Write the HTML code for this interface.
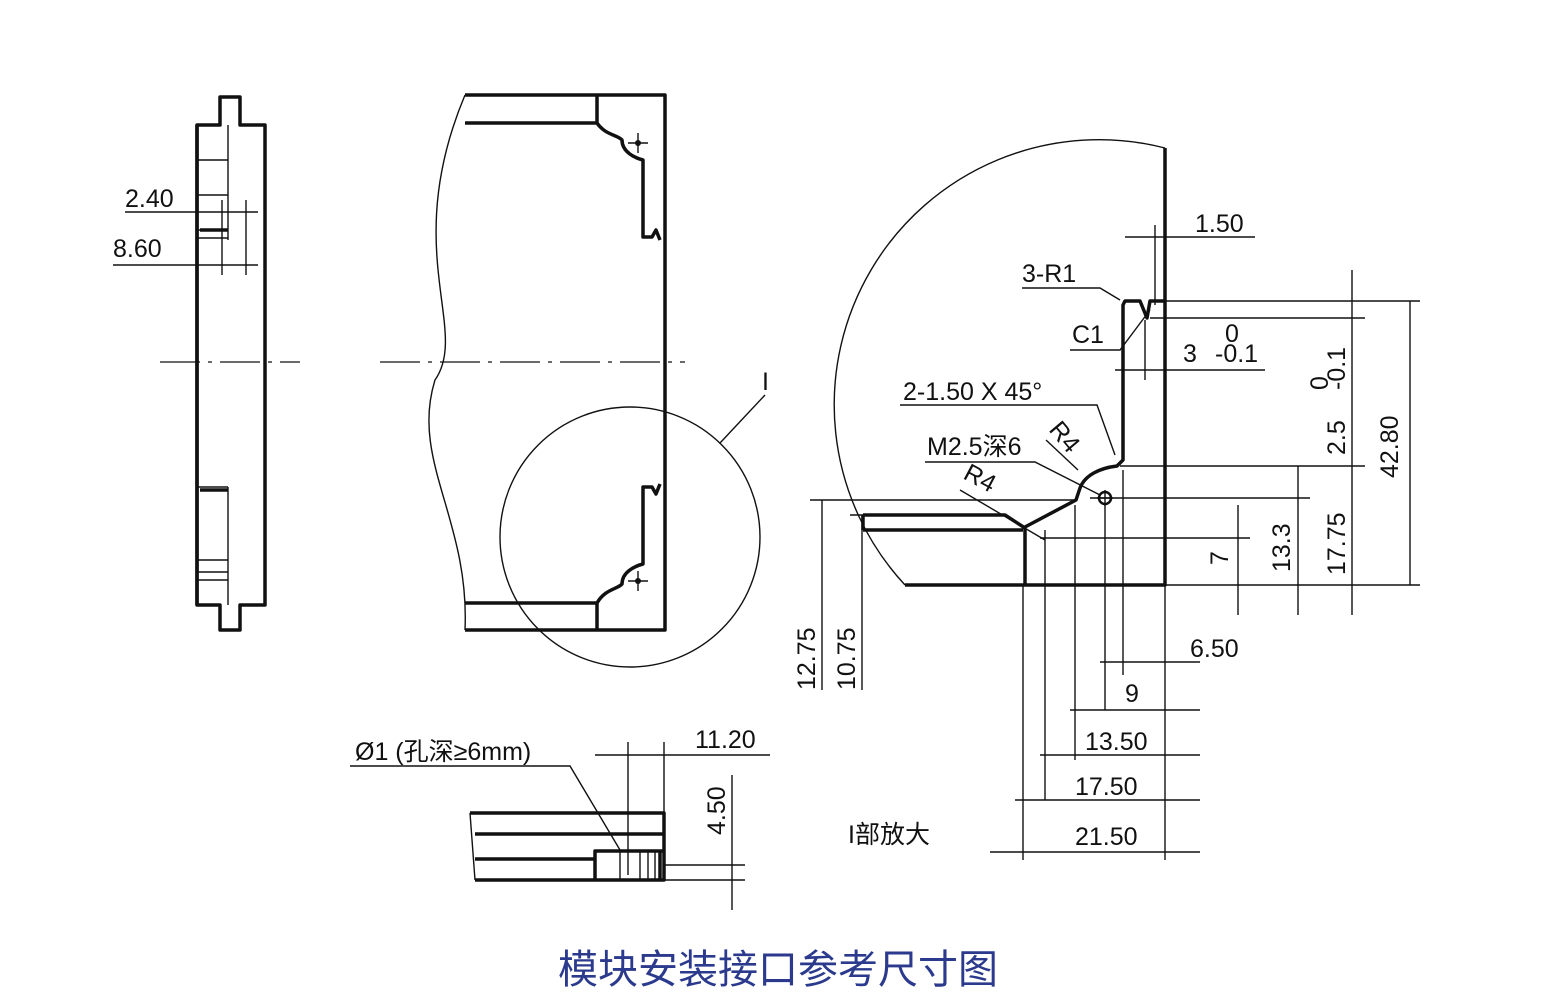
<!DOCTYPE html>
<html><head><meta charset="utf-8"><style>
html,body{margin:0;padding:0;background:#fff;}
svg{display:block}
text{font-family:"Liberation Sans Narrow","Liberation Sans","Noto Sans CJK SC",sans-serif;fill:#111;font-size:25px}
.t{stroke:#111;stroke-width:3.5;fill:none;stroke-linejoin:round}
.n{stroke:#111;stroke-width:1.4;fill:none}
.c{stroke:#111;stroke-width:1.3;fill:none;stroke-dasharray:40 8 4 8}
</style></head><body>
<svg width="1555" height="999" viewBox="0 0 1555 999">
<!-- Left side profile -->
<path class="t" d="M220,97 H240 V125 H265 V605 H240 V630 H220 V605 H197 V125 H220 Z"/>
<path class="t" d="M197,125 V605"/>
<path class="n" d="M228,125 V240 M197,160 H228 M197,195 H228 M197,230 H228 M197,238 H228 M228,487 V605 M197,487 H228 M197,560 H228 M197,572 H228 M197,580 H228"/>
<path class="t" d="M200,230 H228 M200,490 H228"/>
<path class="n" d="M125,212 H258 M113,265 H258 M222,200 V275 M246,200 V275"/>
<text x="125" y="207">2.40</text>
<text x="113" y="257">8.60</text>
<path class="c" d="M160,362 H300"/>
<!-- Middle view -->
<path class="t" d="M465,95 H665 V630 H465"/>
<path class="n" d="M465,95 C400,250 470,330 435,380 C410,460 470,520 465,630"/>
<path class="t" d="M465,123 H597 V95 M597,123 C605,135 618,135 622,140 C622,152 635,158 643,160 V237 H652 L656,230 L660,240"/>
<path class="t" d="M465,603 H597 V630 M597,603 C605,589 618,589 622,584 C622,572 635,566 643,564 V487 H652 L656,494 L660,484"/>
<path class="n" d="M628,143 H648 M638,133 V153 M628,581 H648 M638,571 V591"/>
<circle cx="638" cy="143" r="3" fill="#111"/><circle cx="638" cy="581" r="3" fill="#111"/>
<path class="c" d="M380,362 H685"/>
<circle class="n" cx="630" cy="537" r="130"/>
<path class="n" d="M720,443 L765,395"/>
<text x="762" y="390" font-size="22">I</text>
<!-- Right detail -->
<path class="n" d="M1165,148 A265,265 0 0 0 905,585"/>
<path class="t" d="M1165,148 V585 H905"/>
<path class="t" d="M1165,301 H1150 L1147,318 L1140,301 H1125 L1123,305 V460 L1117,466 C1100,468 1085,475 1080,488 L1076,500 L1025,527 V585"/>
<path class="t" d="M863,515 H1005 L1025,528 M863,530 H1023 M863,515 V530"/>
<circle class="t" cx="1105" cy="498" r="6" style="stroke-width:2.5"/>
<path class="n" d="M1097,498 H1113 M1105,490 V506"/>
<!-- ext lines -->
<path class="n" d="M1165,301 H1420 M1150,318 H1365 M1120,466 H1365 M1090,498 H1310 M1040,538 H1250 M1165,585 H1420 M810,500 H1075 M850,515 H865"/>
<path class="n" d="M1155,225 V305 M1125,237 H1255 M1145,320 V380 M1115,370 H1265"/>
<path class="n" d="M1352,270 V615 M1410,301 V585 M1298,466 V615 M1238,505 V615"/>
<path class="n" d="M1123,470 V675 M1105,505 V710 M1075,505 V760 M1045,530 V800 M1023,585 V860 M1165,585 V860"/>
<path class="n" d="M1100,662 H1200 M1070,710 H1200 M1040,755 H1200 M1015,800 H1200 M990,852 H1200"/>
<path class="n" d="M822,500 V690 M862,515 V690"/>
<text x="1195" y="232">1.50</text>
<text x="1022" y="282">3-R1</text>
<path class="n" d="M1022,288 H1100 L1120,300"/>
<text x="1072" y="343">C1</text>
<path class="n" d="M1070,350 H1120 L1150,310"/>
<text x="1183" y="362">3</text>
<text x="1225" y="342" font-size="17">0</text>
<text x="1215" y="362" font-size="17">-0.1</text>
<text transform="translate(1398,478) rotate(-90)">42.80</text>
<text transform="translate(1345,455) rotate(-90)">2.5</text>
<text transform="translate(1328,390) rotate(-90)" font-size="17">0</text>
<text transform="translate(1345,390) rotate(-90)" font-size="17">-0.1</text>
<text transform="translate(1345,575) rotate(-90)">17.75</text>
<text transform="translate(1290,572) rotate(-90)">13.3</text>
<text transform="translate(1228,565) rotate(-90)">7</text>
<text transform="translate(815,690) rotate(-90)">12.75</text>
<text transform="translate(855,690) rotate(-90)">10.75</text>
<text x="1190" y="657">6.50</text>
<text x="1125" y="702">9</text>
<text x="1085" y="750">13.50</text>
<text x="1075" y="795">17.50</text>
<text x="1075" y="845">21.50</text>
<text x="903" y="400">2-1.50  X  45°</text>
<path class="n" d="M900,405 H1097 L1115,455"/>
<text transform="translate(1048,430) rotate(50)" font-size="22">R4</text>
<path class="n" d="M1046,440 L1078,470"/>
<text x="927" y="455" font-size="23">M2.5深6</text>
<path class="n" d="M925,462 H1035 L1100,495"/>
<text transform="translate(962,478) rotate(28)" font-size="22">R4</text>
<path class="n" d="M960,490 L1045,540"/>
<text x="848" y="843" font-size="23">I部放大</text>
<!-- Bottom small part -->
<path class="t" d="M470,813 H664 V880 H475 M475,834 H664 M475,859 H595 V851 H664 M595,859 V880"/>
<path class="n" d="M470,813 L475,880"/>
<path class="n" d="M620,851 V880 M640,851 V880 M648,851 V880 M655,851 V880"/>
<path class="t" d="M660,851 V880"/>
<path class="n" d="M628,742 V875 M664,742 V813 M595,755 H770 M664,865 H745 M664,880 H745 M732,775 V910"/>
<text x="695" y="748">11.20</text>
<text transform="translate(725,835) rotate(-90)">4.50</text>
<text x="355" y="760" font-size="23">Ø1 (孔深≥6mm)</text>
<path class="n" d="M350,766 H570 L620,850"/>
<!-- Title -->
<text x="778" y="983" text-anchor="middle" style="font-family:'Noto Sans CJK SC',sans-serif;font-size:40px;fill:#2b3a8c">模块安装接口参考尺寸图</text>
</svg>
</body></html>
